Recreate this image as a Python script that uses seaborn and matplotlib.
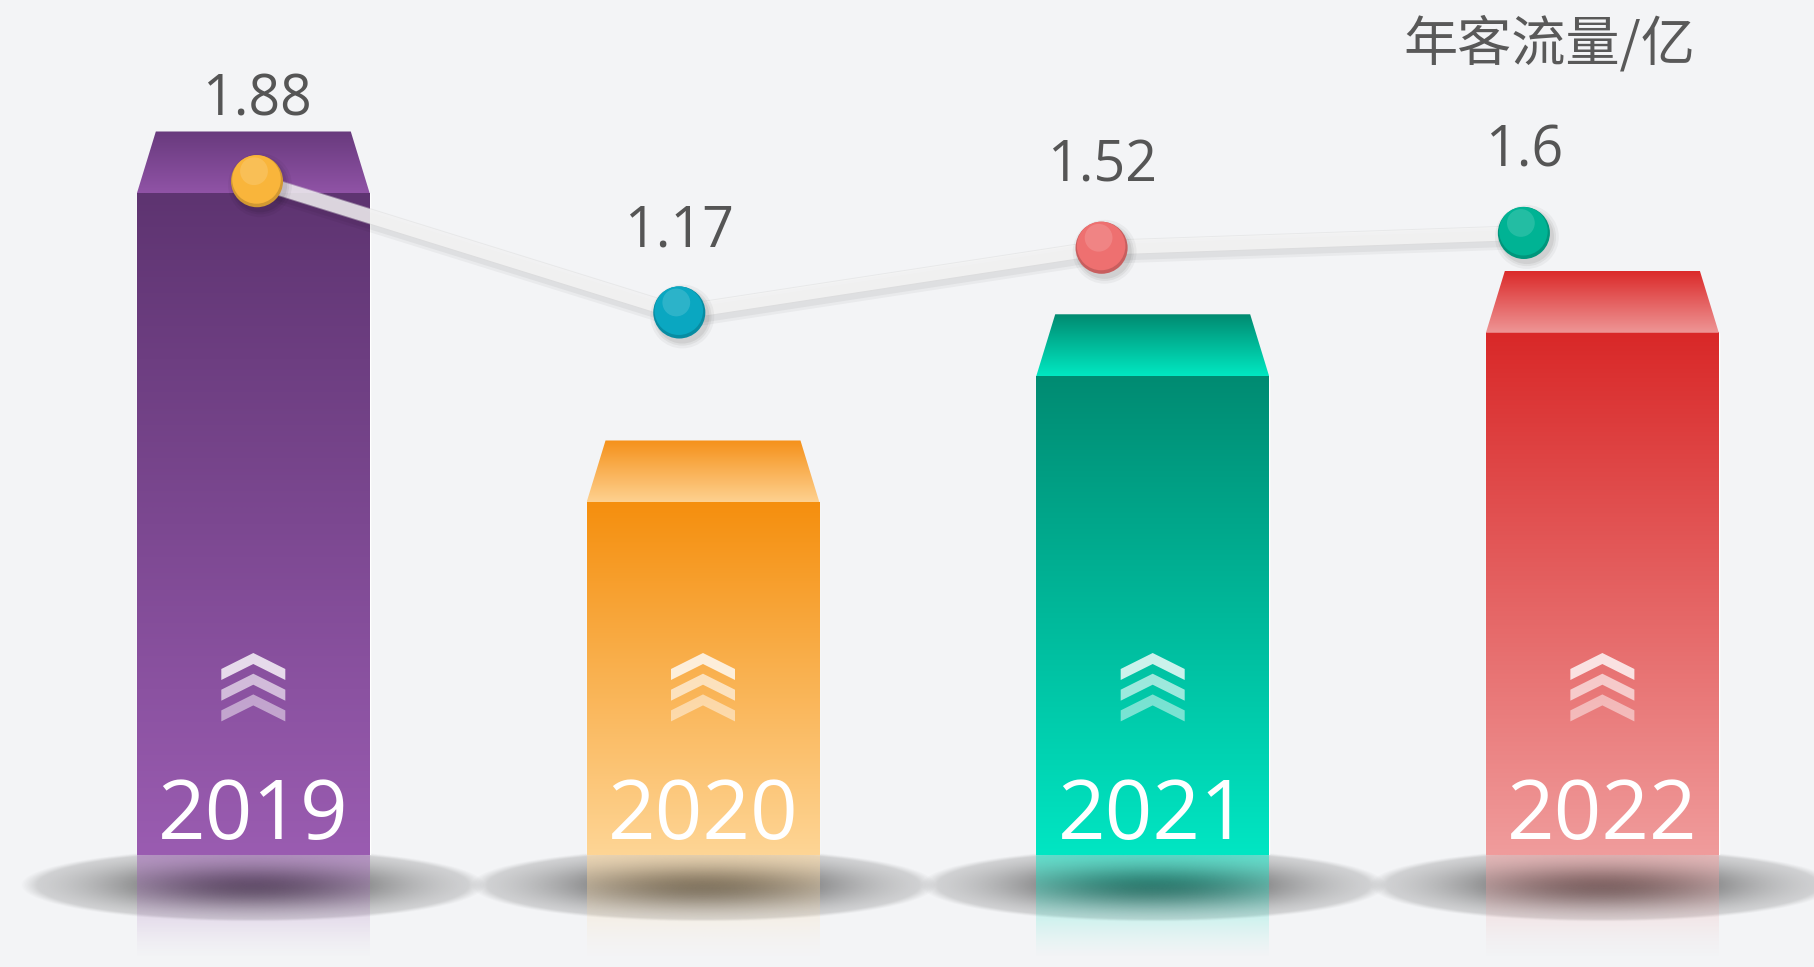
import numpy as np
import pandas as pd
import matplotlib
matplotlib.use("Agg")
import matplotlib.pyplot as plt
import matplotlib.transforms as mtransforms
from matplotlib.patches import Polygon
from matplotlib.colors import to_rgb
import seaborn as sns

# data
years = ["2019", "2020", "2021", "2022"]
flow = [1.88, 1.17, 1.52, 1.6]            # 年客流量/亿 (line + labels)
bar_heights = [1.88, 1.17, 1.46, 1.56]    # bar tops as drawn
bar_floor = 0.36                          # bar axis starts here, not at 0

bar_top_colors = ["#5e3471", "#f58f0e", "#008b72", "#d92828"]
bar_bottom_colors = ["#9a5cb1", "#fed595", "#00e6c3", "#f09c9c"]
cap_top_colors = ["#683a7d", "#f5911a", "#008a70", "#db2a2a"]
cap_bottom_colors = ["#9053a6", "#fed190", "#00e8c2", "#ee9696"]
dot_colors = ["#f9b53b", "#0aa7c1", "#ee7070", "#00b394"]

BG = "#f3f4f6"
W, H = 1814, 967
BASE_PX = 112   # bar bottom above the figure's lower edge


def vgrad(c_top, c_bot, n=256):
    t = np.linspace(0, 1, n)[:, None]
    a, b = np.array(to_rgb(c_top)), np.array(to_rgb(c_bot))
    return (a + (b - a) * t)[:, None, :]


sns.set_theme(style="white")
plt.rcParams["font.family"] = ["Open Sans", "Noto Sans CJK SC", "DejaVu Sans"]

fig = plt.figure(figsize=(W / 100, H / 100), dpi=100, facecolor=BG)

# ---- bars ----
ax_bar = fig.add_axes([0, BASE_PX / H, 1, 1 - BASE_PX / H])
sns.barplot(x=years, y=bar_heights, hue=years, palette=bar_top_colors, legend=False,
            saturation=1, width=0.518, errorbar=None, ax=ax_bar, zorder=2)
ax_bar.set_xlim(-0.5633, 3.4706)
ax_bar.set_ylim(bar_floor, bar_floor + (H - BASE_PX) / 435.2)
ax_bar.set_axis_off()

px_x = ax_bar.bbox.width / np.ptp(ax_bar.get_xlim())
px_y = ax_bar.bbox.height / np.ptp(ax_bar.get_ylim())

chev = np.array([(0, 0), (32, 16), (32, 27), (0, 11), (-32, 27), (-32, 16)], float)

u = np.linspace(-1, 1, 300)
v = np.linspace(-1, 1, 90)
U, V = np.meshgrid(u, v)
R = np.sqrt(U ** 2 + V ** 2)
shadow = np.zeros((90, 300, 4))
shadow[..., :3] = 0.2
shadow[..., 3] = (0.1 + 0.78 * np.exp(-2.6 * R ** 2)) * np.clip((1 - R) / 0.07, 0, 1)

for i, rect in enumerate(ax_bar.patches):
    x0 = rect.get_x()
    w = rect.get_width()
    x1 = x0 + w
    xc = x0 + w / 2
    top = rect.get_y() + rect.get_height()

    # body gradient
    ax_bar.imshow(vgrad(bar_top_colors[i], bar_bottom_colors[i]),
                  extent=[x0, x1, bar_floor, top], aspect="auto", zorder=3,
                  interpolation="bilinear")

    # trapezoid cap
    cap = 62 / px_y
    inset = 19 / px_x
    poly = Polygon([(x0, top), (x1, top), (x1 - inset, top + cap), (x0 + inset, top + cap)],
                   closed=True, transform=ax_bar.transData, facecolor="none", edgecolor="none")
    ax_bar.add_patch(poly)
    im = ax_bar.imshow(vgrad(cap_top_colors[i], cap_bottom_colors[i]),
                       extent=[x0, x1, top, top + cap], aspect="auto", zorder=3,
                       interpolation="bilinear")
    im.set_clip_path(poly)

    # floor shadow
    hw, hh = 233 / px_x, 37 / px_y
    cy = bar_floor - 30 / px_y
    sh = ax_bar.imshow(shadow, extent=[xc - hw, xc + hw, cy - hh, cy + hh],
                       aspect="auto", zorder=0.5, interpolation="bilinear")
    sh.set_clip_on(False)

    # reflection
    rh = 105 / px_y
    t = np.linspace(0, 1, 128)[:, None]
    refl = np.zeros((128, 1, 4))
    refl[..., :3] = to_rgb(bar_bottom_colors[i])
    refl[..., 3] = 0.55 * (1 - t) ** 1.4
    rf = ax_bar.imshow(refl, extent=[x0, x1, bar_floor - rh, bar_floor],
                       aspect="auto", zorder=0.6, interpolation="bilinear")
    rf.set_clip_on(False)

    # chevrons
    apex = bar_floor + 202 / px_y
    for k, a in enumerate([0.8, 0.62, 0.48]):
        pts = np.column_stack([xc + chev[:, 0] / px_x,
                               apex - (chev[:, 1] + 20.7 * k) / px_y])
        ax_bar.add_patch(Polygon(pts, closed=True, facecolor="white",
                                 edgecolor="none", alpha=a, zorder=4))

    ax_bar.text(xc, bar_floor + 16 / px_y, years[i], ha="center", va="baseline",
                fontsize=60, color="white", zorder=5)

# ---- line ----
ax_line = fig.add_axes([0, 0, 1, 1])
ax_line.set_axis_off()
df = pd.DataFrame({"pos": range(len(years)), "flow": flow, "year": years})

sh1 = mtransforms.offset_copy(ax_line.transData, fig=fig, x=2, y=-5, units="dots")
ax_line.plot(df.pos, df.flow, color="black", alpha=0.04, lw=16, transform=sh1, zorder=1)
ax_line.plot(df.pos, df.flow, color="black", alpha=0.045, lw=12, transform=sh1, zorder=1)
sns.lineplot(data=df, x="pos", y="flow", ax=ax_line, color="#dadada", lw=11.3,
             alpha=0.45, zorder=2)
sns.lineplot(data=df, x="pos", y="flow", ax=ax_line, color="#f8f8f8", lw=10,
             alpha=0.72, zorder=3)

# dots
sh2 = mtransforms.offset_copy(ax_line.transData, fig=fig, x=3, y=-4, units="dots")
for size, a in [(46, 0.04), (42, 0.05), (39, 0.06)]:
    ax_line.scatter(df.pos, df.flow, s=size ** 2, color="black", alpha=a,
                    edgecolor="none", transform=sh2, zorder=4)
rim = [tuple(c * 0.84 for c in to_rgb(col)) for col in dot_colors]
ax_line.scatter(df.pos, df.flow, s=37.5 ** 2, c=rim, edgecolor="none", zorder=5)
up = mtransforms.offset_copy(ax_line.transData, fig=fig, x=-0.5, y=1.8, units="dots")
sns.scatterplot(data=df, x="pos", y="flow", hue="year", palette=dot_colors, s=35 ** 2,
                edgecolor="none", legend=False, ax=ax_line, zorder=6, transform=up)
hl = mtransforms.offset_copy(ax_line.transData, fig=fig, x=-3, y=10, units="dots")
ax_line.scatter(df.pos, df.flow, s=20 ** 2, color="white", alpha=0.14,
                edgecolor="none", transform=hl, zorder=7)

for p, val in zip(df.pos, df.flow):
    ax_line.annotate(f"{val:g}", (p, val), xytext=(0, 47.5), textcoords="offset points",
                     ha="center", va="baseline", fontsize=40, color="#555555", zorder=8)

ax_line.set_xlim(-0.6086, 3.687)
ax_line.set_ylim(-2.37, 2.86)

fig.text(1549 / W, 1 - 44 / H, "年客流量/亿", ha="center", va="center", fontsize=39,
         color="#595959", family=["Noto Sans CJK SC", "DejaVu Sans"])

fig.savefig("out.png", dpi=100, facecolor=BG)
